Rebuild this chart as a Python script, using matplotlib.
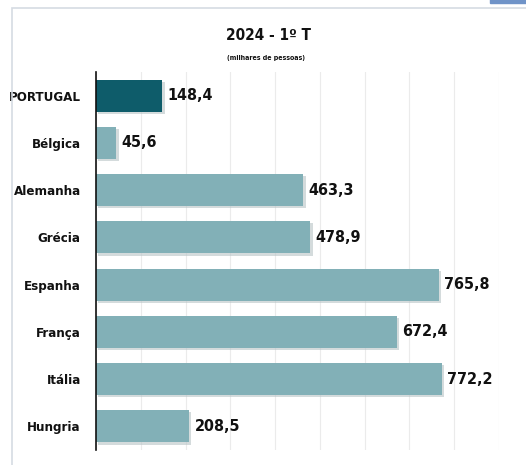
import matplotlib.pyplot as plt
import matplotlib.patheffects as pe
from matplotlib.patches import Rectangle

countries = ['PORTUGAL', 'Bélgica', 'Alemanha', 'Grécia', 'Espanha', 'França', 'Itália', 'Hungria']
values = [148.4, 45.6, 463.3, 478.9, 765.8, 672.4, 772.2, 208.5]
labels = ['148,4', '45,6', '463,3', '478,9', '765,8', '672,4', '772,2', '208,5']

plt.rcParams['font.family'] = ['DejaVu Sans']
plt.rcParams['font.stretch'] = 'condensed'

fig = plt.figure(figsize=(5.26, 4.65), dpi=100)

# outer frame
fig.patches.append(Rectangle((12 / 526, -0.1), 1.0, 1 - 8 / 465 + 0.1,
                             transform=fig.transFigure, fill=False,
                             edgecolor='#d5dbe3', linewidth=1.2))
fig.patches.append(Rectangle((490 / 526, 1 - 3 / 465), 40 / 526, 4 / 465,
                             transform=fig.transFigure, color='#6f93c8'))

ax = fig.add_axes([96 / 526, 1 - 450 / 465, 403 / 526, 378 / 465])
colors = ['#0e5c6a'] + ['#82b0b7'] * (len(values) - 1)
ypos = list(range(len(values)))
bars = ax.barh(ypos, values, height=0.68, color=colors, zorder=3)
for b in bars:
    b.set_path_effects([pe.SimplePatchShadow(offset=(1.5, -1.5), shadow_rgbFace='#b8c4c6', alpha=0.6),
                        pe.Normal()])

for y, v, t in zip(ypos, values, labels):
    ax.text(v + 12, y, t, va='center', ha='left', fontsize=11.5,
            fontweight='bold', color='#111111')

ax.set_xlim(0, 900)
ax.set_ylim(len(values) - 0.5, -0.5)
ax.set_xticks(range(0, 901, 100))
ax.set_xticklabels([])
ax.tick_params(axis='x', length=0)
ax.tick_params(axis='y', length=0, pad=11)
ax.set_yticks(ypos)
ax.set_yticklabels(countries, fontsize=9.5, fontweight='bold', color='#111111')
ax.grid(axis='x', color='#ebebeb', linewidth=0.8, zorder=0)
for s in ['top', 'right', 'bottom']:
    ax.spines[s].set_visible(False)
ax.spines['left'].set_color('#111111')
ax.spines['left'].set_linewidth(1.2)
ax.spines['left'].set_zorder(4)

fig.text(268 / 526, 1 - 35 / 465, '2024 - 1º T', ha='center', va='center',
         fontsize=11, fontweight='bold', color='#111111')
fig.text(266 / 526, 1 - 58 / 465, '(milhares de pessoas)', ha='center', va='center',
         fontsize=5, fontweight='bold', color='#111111')

fig.savefig('out.png', dpi=100)
